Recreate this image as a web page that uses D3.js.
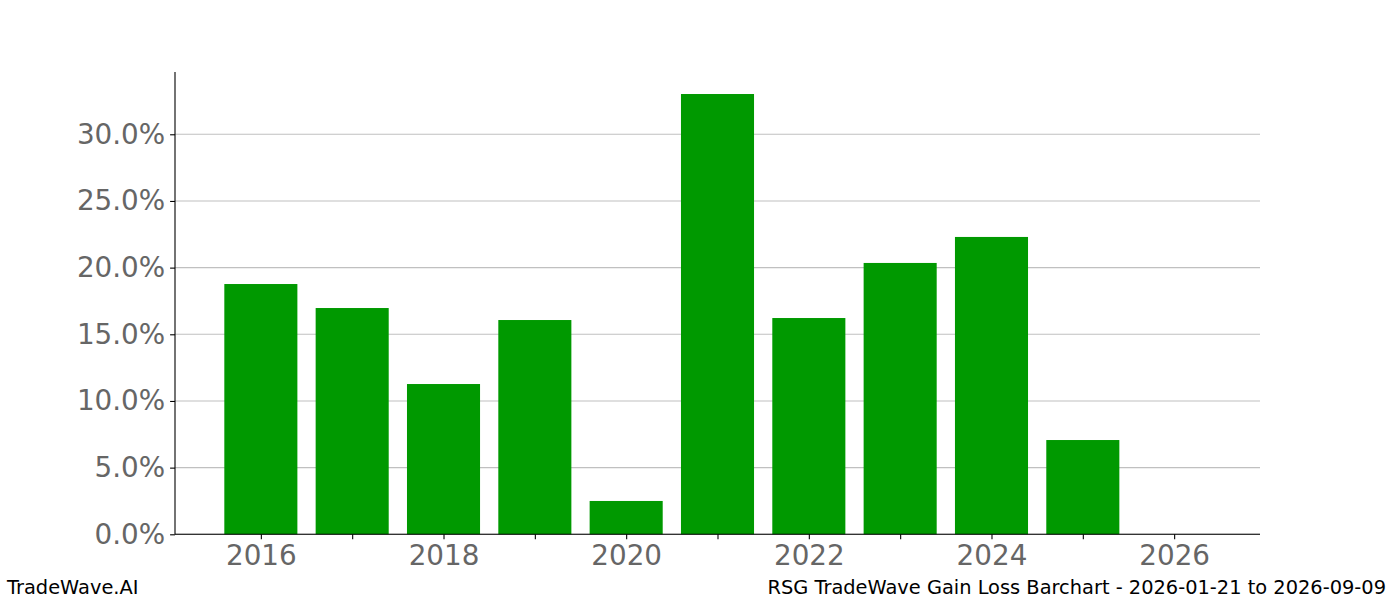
<!DOCTYPE html>
<html>
<head>
<meta charset="utf-8">
<script src="https://cdn.jsdelivr.net/npm/d3@7"></script>
<style>
	body { margin: 0; background: #fff; }
	svg { display: block; font-family: "DejaVu Sans", sans-serif; }
</style>
</head>
<body>
<div id="chart"></div>
<script>
// Data
var years =		[2016, 2017, 2018, 2019, 2020, 2021, 2022, 2023, 2024, 2025, 2026];
var gains =		[18.77, 16.97, 11.27, 16.07, 2.50, 33.02, 16.22, 20.35, 22.30, 7.07, 0];
var yTicks =	[0, 5, 10, 15, 20, 25, 30];
var xTicks =	[2016, 2017, 2018, 2019, 2020, 2021, 2022, 2023, 2024, 2025, 2026];
var xLabels =	[2016, 2018, 2020, 2022, 2024, 2026];
var footLeft =	"TradeWave.AI";
var footRight =	"RSG TradeWave Gain Loss Barchart - 2026-01-21 to 2026-09-09";

// Layout
var W = 1400, H = 600;
var plot = { left: 175, right: 1260, top: 72, bottom: 534.3 };
var barWidth = 0.8;
var tickLen = 4.9;

var svg = d3.select("#chart").append("svg")
	.attr("width", W)
	.attr("height", H);

// Scales (matplotlib style 5% margins)
var xMin = d3.min(years) - barWidth / 2, xMax = d3.max(years) + barWidth / 2;
var xPad = (xMax - xMin) * 0.05;
var x = d3.scaleLinear()
	.domain([xMin - xPad, xMax + xPad])
	.range([plot.left, plot.right]);
var y = d3.scaleLinear()
	.domain([0, d3.max(gains) * 1.05])
	.range([plot.bottom, plot.top]);

// Grid
svg.append("g").attr("class", "grid")
	.selectAll("line").data(yTicks).enter().append("line")
	.attr("x1", plot.left).attr("x2", plot.right)
	.attr("y1", function(d) { return y(d); })
	.attr("y2", function(d) { return y(d); })
	.attr("stroke", "#c0c0c0")
	.attr("stroke-width", 1.1);

// Bars
svg.append("g").attr("class", "bars")
	.selectAll("rect").data(years).enter().append("rect")
	.attr("x", function(d) { return x(d - barWidth / 2); })
	.attr("width", function(d) { return x(d + barWidth / 2) - x(d - barWidth / 2); })
	.attr("y", function(d, i) { return y(gains[i]); })
	.attr("height", function(d, i) { return y(0) - y(gains[i]); })
	.attr("fill", "#009900");

// Axes
var yAxis = d3.axisLeft(y)
	.tickValues(yTicks)
	.tickFormat(function(d) { return d.toFixed(1) + "%"; })
	.tickSize(tickLen)
	.tickPadding(4.9);
var xAxis = d3.axisBottom(x)
	.tickValues(xTicks)
	.tickFormat(function(d) { return xLabels.indexOf(d) >= 0 ? d : ""; })
	.tickSize(tickLen)
	.tickPadding(6.5);

var gy = svg.append("g")
	.attr("transform", "translate(" + plot.left + ",0)")
	.call(yAxis);
var gx = svg.append("g")
	.attr("transform", "translate(0," + plot.bottom + ")")
	.call(xAxis);

[gx, gy].forEach(function(g) {
	g.select(".domain").remove();
	g.selectAll(".tick line").attr("stroke", "#000").attr("stroke-width", 1.1);
	g.selectAll(".tick text")
		.attr("fill", "#666")
		.style("font-size", "27.8px")
		.style("font-family", "'DejaVu Sans', sans-serif");
});

// Spines (left + bottom only)
svg.append("line")
	.attr("x1", plot.left).attr("x2", plot.left)
	.attr("y1", plot.top).attr("y2", plot.bottom)
	.attr("stroke", "#000").attr("stroke-width", 1.1);
svg.append("line")
	.attr("x1", plot.left).attr("x2", plot.right)
	.attr("y1", plot.bottom).attr("y2", plot.bottom)
	.attr("stroke", "#000").attr("stroke-width", 1.1);

// Footer
svg.append("text")
	.attr("x", 7).attr("y", 594)
	.style("font-size", "19.4px")
	.attr("fill", "#000")
	.text(footLeft);
svg.append("text")
	.attr("x", 1386).attr("y", 594)
	.attr("text-anchor", "end")
	.style("font-size", "19.4px")
	.attr("fill", "#000")
	.text(footRight);
</script>
</body>
</html>
